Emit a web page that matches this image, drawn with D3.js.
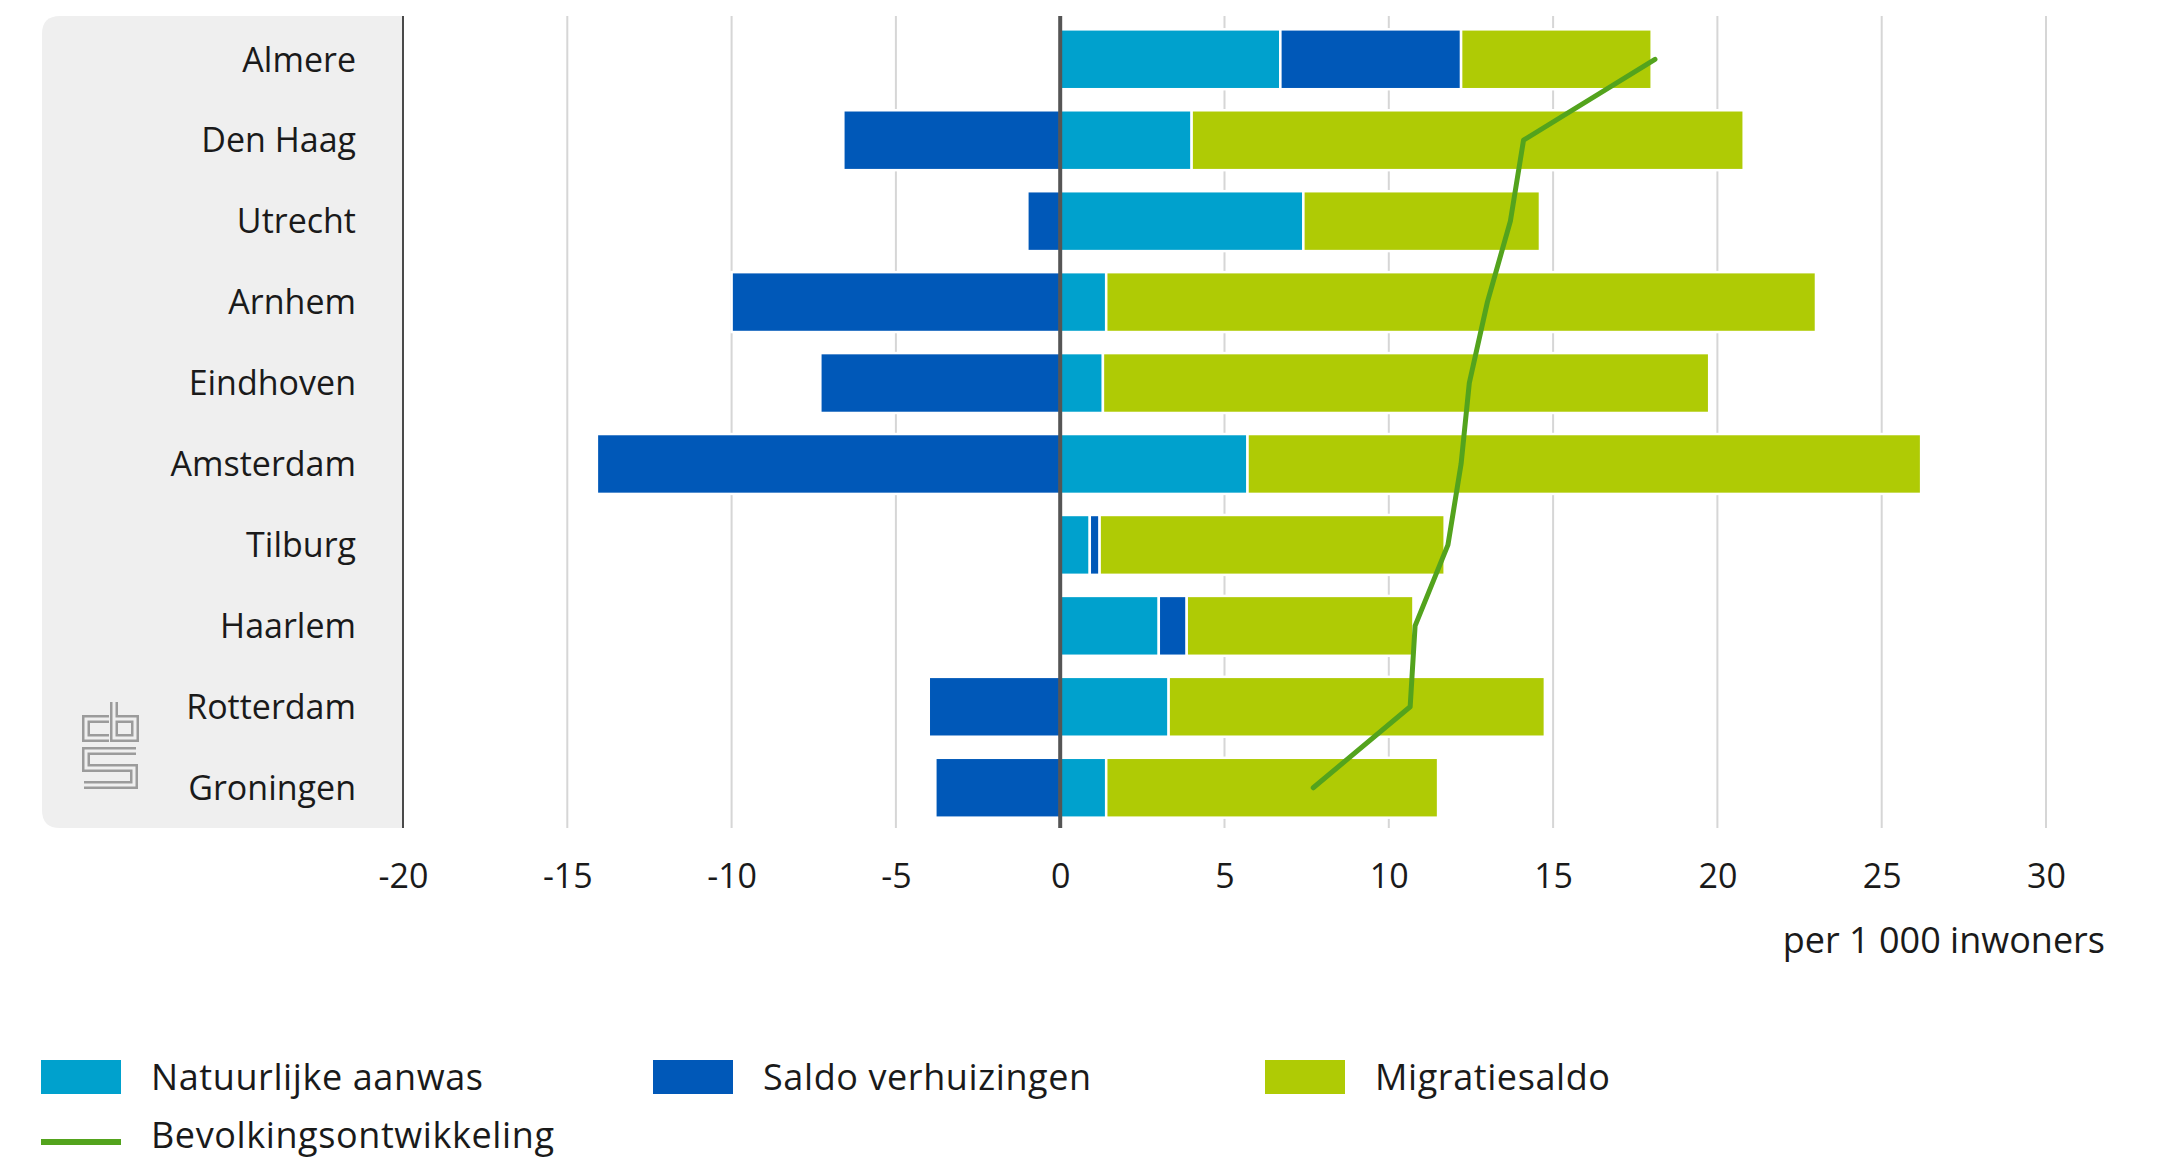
<!DOCTYPE html>
<html>
<head>
<meta charset="utf-8">
<script src="https://cdn.jsdelivr.net/npm/d3@7"></script>
<style>
  html, body { margin: 0; padding: 0; background: #ffffff; }
  svg { display: block; }
  text { font-family: "Open Sans", "Noto Sans", sans-serif; fill: #1a1a1a; }
</style>
</head>
<body>
<svg id="chart" width="2157" height="1161"></svg>
<script>
// ---- data (per 1 000 inwoners) ----
const cities = ["Almere", "Den Haag", "Utrecht", "Arnhem", "Eindhoven", "Amsterdam", "Tilburg", "Haarlem", "Rotterdam", "Groningen"];
const natuurlijkeAanwas = [6.7, 4.0, 7.4, 1.4, 1.3, 5.7, 0.9, 3.0, 3.3, 1.4];
const saldoVerhuizingen = [5.5, -6.6, -1.0, -10.0, -7.3, -14.1, 0.3, 0.85, -4.0, -3.8];
const migratiesaldo = [5.8, 16.8, 7.2, 21.6, 18.45, 20.5, 10.5, 6.9, 11.45, 10.1];
const bevolkingsontwikkeling = [18.1, 14.1, 13.7, 13.0, 12.45, 12.2, 11.8, 10.8, 10.65, 7.7];
const tickValues = [-20, -15, -10, -5, 0, 5, 10, 15, 20, 25, 30];
const tickLabels = ["-20", "-15", "-10", "-5", "0", "5", "10", "15", "20", "25", "30"];
const seriesNames = ["Natuurlijke aanwas", "Saldo verhuizingen", "Migratiesaldo"];
const lineName = "Bevolkingsontwikkeling";
const axisTitle = "per 1 000 inwoners";

// ---- styles ----
const keys = ["nat", "verh", "mig"];
const colors = { nat: "#00a1cd", verh: "#0058b8", mig: "#afcb05" };
const lineColor = "#53a31d";

const rows = cities.map((c, i) => ({
  city: c,
  nat: natuurlijkeAanwas[i],
  verh: saldoVerhuizingen[i],
  mig: migratiesaldo[i],
  total: bevolkingsontwikkeling[i]
}));

const svg = d3.select("#chart");

const plotTop = 16, plotBottom = 828;
const x = d3.scaleLinear().domain([-20, 30]).range([403, 2046]);
const y = d3.scaleBand().domain(cities).range([18.8, 828.2]).paddingInner(0.26).paddingOuter(0.13);

// grey panel behind the category labels
const px0 = 42, px1 = x(-20), r = 18;
svg.append("path")
  .attr("d", `M${px1},${plotTop} H${px0 + r} Q${px0},${plotTop} ${px0},${plotTop + r} V${plotBottom - r} Q${px0},${plotBottom} ${px0 + r},${plotBottom} H${px1} Z`)
  .attr("fill", "#efefef");

// gridlines
svg.append("g").selectAll("line")
  .data(tickValues.filter(v => v !== 0 && v !== -20))
  .join("line")
  .attr("x1", d => x(d)).attr("x2", d => x(d))
  .attr("y1", plotTop).attr("y2", plotBottom)
  .attr("stroke", "#d6d6d6").attr("stroke-width", 2);

// stacked bars
const stack = d3.stack().keys(keys).offset(d3.stackOffsetDiverging);
const stacked = stack(rows);
svg.append("g").selectAll("g")
  .data(stacked)
  .join("g")
  .attr("fill", d => colors[d.key])
  .selectAll("rect")
  .data(d => d)
  .join("rect")
  .attr("x", d => x(Math.min(d[0], d[1])))
  .attr("width", d => Math.abs(x(d[1]) - x(d[0])))
  .attr("y", d => y(d.data.city))
  .attr("height", y.bandwidth())
  .attr("stroke", "#ffffff")
  .attr("stroke-width", 2.5);

// zero line and left axis line
svg.append("line")
  .attr("x1", x(0)).attr("x2", x(0)).attr("y1", plotTop).attr("y2", plotBottom)
  .attr("stroke", "#555555").attr("stroke-width", 4);
svg.append("line")
  .attr("x1", x(-20)).attr("x2", x(-20)).attr("y1", plotTop).attr("y2", plotBottom)
  .attr("stroke", "#4a4a4a").attr("stroke-width", 2);

// population development line
const line = d3.line()
  .x(d => x(d.total))
  .y(d => y(d.city) + y.bandwidth() / 2);
svg.append("path")
  .datum(rows)
  .attr("d", line)
  .attr("fill", "none")
  .attr("stroke", lineColor)
  .attr("stroke-width", 5)
  .attr("stroke-linejoin", "round")
  .attr("stroke-linecap", "round");

// category labels
svg.append("g").selectAll("text")
  .data(cities)
  .join("text")
  .attr("x", 356)
  .attr("y", d => y(d) + y.bandwidth() / 2)
  .attr("dy", "0.36em")
  .attr("text-anchor", "end")
  .attr("font-size", 34)
  .text(d => d);

// x axis labels
const xAxis = d3.axisBottom(x)
  .tickValues(tickValues)
  .tickFormat((d, i) => tickLabels[i])
  .tickSize(0)
  .tickPadding(0);
const gx = svg.append("g").attr("transform", `translate(0, 864)`).call(xAxis);
gx.select(".domain").remove();
gx.selectAll("text")
  .attr("font-size", 34)
  .attr("font-family", "\"Open Sans\", sans-serif")
  .attr("fill", "#1a1a1a")
  .attr("dy", "0.71em");

// axis title
svg.append("text")
  .attr("x", 2105).attr("y", 940).attr("dy", "0.36em")
  .attr("text-anchor", "end")
  .attr("font-size", 36)
  .text(axisTitle);

// CBS logo (outlined letters)
const logo = svg.append("g").attr("transform", "translate(82, 700)");
const logoPaths = [
  "M27,19 H4 V38 H27",
  "M32,2 V38 H53 V19 H32",
  "M54,51 H4 V68 H52 V85 H2"
];
logoPaths.forEach(p => {
  logo.append("path").attr("d", p).attr("fill", "none")
    .attr("stroke", "#9b9b9b").attr("stroke-width", 8).attr("stroke-linejoin", "miter");
  logo.append("path").attr("d", p).attr("fill", "none")
    .attr("stroke", "#efefef").attr("stroke-width", 3).attr("stroke-linejoin", "miter");
});

// legend
const legend = svg.append("g");
const legendX = [41, 653, 1265];
keys.forEach((k, i) => {
  legend.append("rect")
    .attr("x", legendX[i]).attr("y", 1060).attr("width", 80).attr("height", 34)
    .attr("fill", colors[k]);
  legend.append("text")
    .attr("x", legendX[i] + 110).attr("y", 1077).attr("dy", "0.36em")
    .attr("font-size", 36)
    .attr("letter-spacing", 0.6)
    .text(seriesNames[i]);
});
legend.append("line")
  .attr("x1", 41).attr("x2", 121).attr("y1", 1142).attr("y2", 1142)
  .attr("stroke", lineColor).attr("stroke-width", 6);
legend.append("text")
  .attr("x", 151).attr("y", 1135).attr("dy", "0.36em")
  .attr("font-size", 36)
  .attr("letter-spacing", 0.6)
  .text(lineName);
</script>
</body>
</html>
